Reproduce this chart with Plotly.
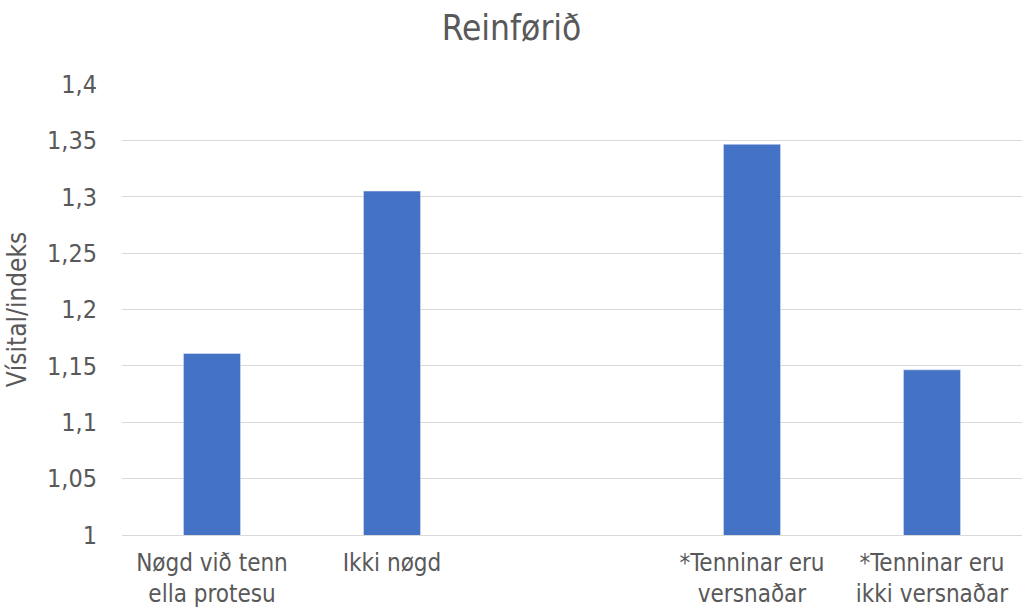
import plotly.graph_objects as go

# Categories (an empty slot separates the two groups)
categories = [
    "Nøgd við tenn<br>ella protesu",
    "Ikki nøgd",
    " ",
    "*Tenninar eru<br>versnaðar",
    "*Tenninar eru<br>ikki versnaðar",
]
values = [1.161, 1.305, None, 1.3465, 1.1465]

y_tickvals = [1, 1.05, 1.1, 1.15, 1.2, 1.25, 1.3, 1.35, 1.4]
y_ticktext = ["1", "1,05", "1,1", "1,15", "1,2", "1,25", "1,3", "1,35", "1,4"]

FONT = "DejaVu Sans Condensed, Liberation Sans Narrow, DejaVu Sans"
GREY = "#595959"

fig = go.Figure(
    go.Bar(
        x=categories,
        y=values,
        marker=dict(color="#4472C4"),
        base=0,
    )
)

fig.update_layout(
    width=1023,
    height=614,
    margin=dict(l=122, r=1, t=84, b=79),
    paper_bgcolor="white",
    plot_bgcolor="white",
    bargap=0.683,
    showlegend=False,
    font=dict(family=FONT, color=GREY, size=25),
    title=dict(
        text="Reinførið",
        x=0.5,
        xanchor="center",
        y=0.955,
        yanchor="middle",
        font=dict(family=FONT, size=35, color=GREY),
    ),
)

fig.update_xaxes(
    type="category",
    categoryorder="array",
    categoryarray=categories,
    automargin=False,
    showgrid=False,
    showline=True,
    linecolor="#d9d9d9",
    linewidth=1,
    ticks="",
    ticklabelstandoff=6,
    tickfont=dict(family=FONT, size=24, color=GREY),
)

fig.update_yaxes(
    range=[1, 1.4],
    tickvals=y_tickvals,
    ticktext=y_ticktext,
    automargin=False,
    showgrid=True,
    gridcolor="#d9d9d9",
    gridwidth=1,
    zeroline=False,
    showline=False,
    ticks="",
    ticklabelstandoff=24,
    tickfont=dict(family=FONT, size=25, color=GREY),
    title=dict(text="Vísital/indeks", font=dict(family=FONT, size=26, color=GREY), standoff=12),
)

fig.write_html("out.html")
